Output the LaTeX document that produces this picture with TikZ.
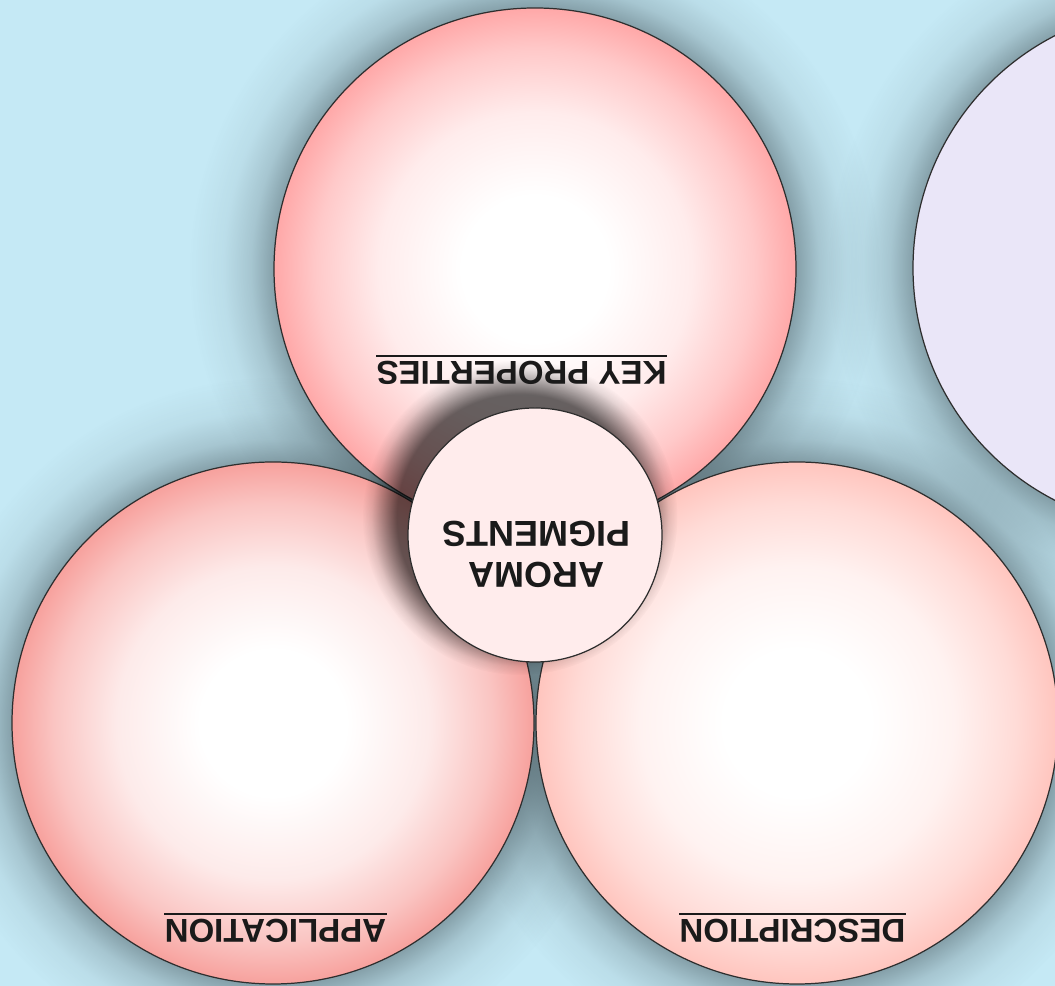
\documentclass[tikz,border=0pt]{standalone}
\usepackage{fontspec}
\setmainfont{Liberation Sans}
\usetikzlibrary{fadings}

\definecolor{bgblue}{HTML}{C5E9F5}
\definecolor{kpedge}{HTML}{FFA8A8}
\definecolor{apedge}{HTML}{F7A19D}
\definecolor{dsedge}{HTML}{FFC5BE}
\definecolor{hubfill}{HTML}{FFECEC}
\definecolor{lavfill}{HTML}{EAE6F8}
\definecolor{rimgray}{HTML}{2E2E2E}
\definecolor{inkblack}{HTML}{1A1A1A}
\definecolor{shadowgray}{HTML}{3A4A50}
\colorlet{edgecolor}{kpedge}

% circle fill: white middle, coloured rim
\pgfdeclareradialshading[edgecolor]{bubbleshade}{\pgfpoint{0bp}{0bp}}{color(0bp)=(white); color(7bp)=(white);
  color(15bp)=(edgecolor!22!white); color(21bp)=(edgecolor!62!white); color(25bp)=(edgecolor); color(50bp)=(edgecolor)}

% soft glow round the big circles (circle of 6.9cm, rim at 5.22cm)
\pgfdeclareradialshading{haloprofile}{\pgfpoint{0bp}{0bp}}{color(0bp)=(pgftransparent!55); color(18.9bp)=(pgftransparent!55);
  color(20.5bp)=(pgftransparent!78); color(22.5bp)=(pgftransparent!93); color(25bp)=(pgftransparent!100); color(50bp)=(pgftransparent!100)}
\pgfdeclarefading{halofade}{\pgfuseshading{haloprofile}}

% shadow of the centre circle (circle of 3.15cm, rim at 2.54cm)
\pgfdeclareradialshading{hubprofile}{\pgfpoint{0bp}{0bp}}{color(0bp)=(pgftransparent!40); color(19.5bp)=(pgftransparent!40);
  color(21.5bp)=(pgftransparent!65); color(23.5bp)=(pgftransparent!90); color(25bp)=(pgftransparent!100); color(50bp)=(pgftransparent!100)}
\pgfdeclarefading{hubfade}{\pgfuseshading{hubprofile}}

\begin{document}
\begin{tikzpicture}[
  bubble/.style={circle, draw=rimgray, line width=0.7pt, minimum size=10.44cm, inner sep=0pt,
    /utils/exec={\colorlet{edgecolor}{#1}}, shading=bubbleshade},
  halo/.style={fill=shadowgray, path fading=halofade},
  hub/.style={circle, draw=rimgray, line width=0.7pt, fill=hubfill, minimum size=5.08cm, inner sep=0pt},
  lbl/.style={font=\bfseries\fontsize{18.8pt}{22pt}\selectfont, text=inkblack, rotate=180,
    inner xsep=0pt, inner ysep=0.1cm, anchor=base},
  ruleline/.style={draw=inkblack, line width=1pt}
]
\useasboundingbox (0,0) rectangle (21.1,19.72);
\fill[bgblue] (0,0) rectangle (21.1,19.72);

% centres of the circles
\coordinate (kp) at (10.70,14.34);
\coordinate (ap) at (5.46,5.26);
\coordinate (ds) at (15.94,5.26);
\coordinate (lav) at (23.48,14.36);
\coordinate (hc) at (10.70,9.02);

% soft halos under the big circles
\foreach \c in {kp,ap,ds,lav}
  \path[halo] (\c) circle (6.9);

\node[bubble=kpedge] (keyprops) at (kp) {};
\node[bubble=apedge] (application) at (ap) {};
\node[bubble=dsedge] (description) at (ds) {};
\node[circle, draw=rimgray, line width=0.7pt, fill=lavfill, minimum size=10.44cm, inner sep=0pt] (lavender) at (lav) {};

% centre
\fill[black, path fading=hubfade] ([shift={(-0.3,0.35)}]hc) circle (3.15);
\node[hub] (hub) at (hc) {};
\node[font=\bfseries\fontsize{20.5pt}{23.3pt}\selectfont, text=inkblack, rotate=180, align=center, inner sep=0pt]
  (hubtext) at (10.73,8.63) {AROMA\\PIGMENTS};

% labels
\node[lbl] (kplabel) at (10.43,12.48) {KEY PROPERTIES};
\draw[ruleline] (kplabel.south west) -- (kplabel.south east);
\node[lbl] (aplabel) at (5.51,1.32) {APPLICATION};
\draw[ruleline] (aplabel.south west) -- (aplabel.south east);
\node[lbl] (dslabel) at (15.85,1.32) {DESCRIPTION};
\draw[ruleline] (dslabel.south west) -- (dslabel.south east);
\end{tikzpicture}
\end{document}
